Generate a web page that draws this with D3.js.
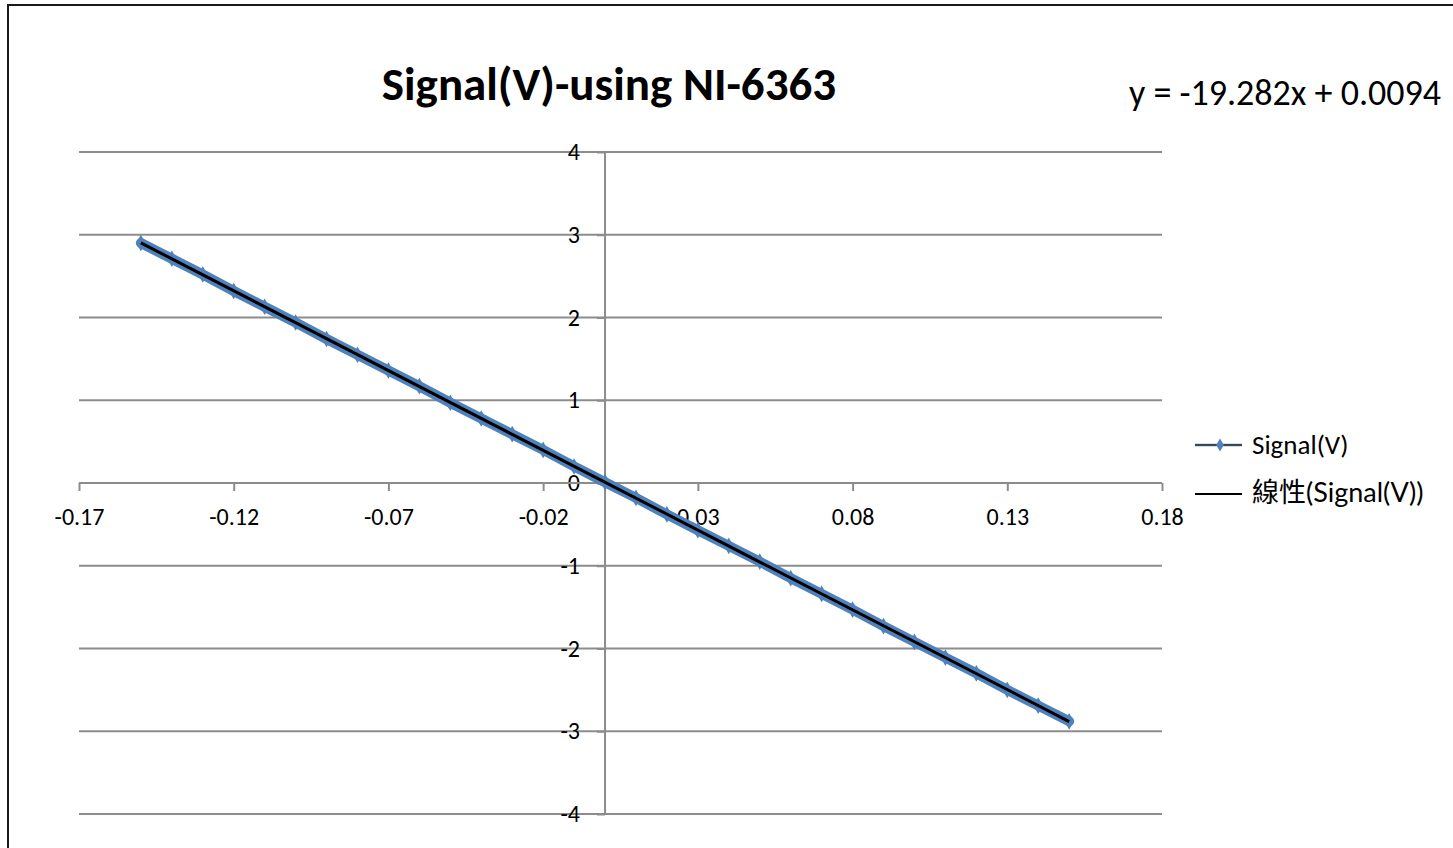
<!DOCTYPE html>
<html>
<head>
<meta charset="utf-8">
<script src="https://cdnjs.cloudflare.com/ajax/libs/d3/7.8.5/d3.min.js"></script>
<style>
  body { margin: 0; background: #fff; }
  text { font-family: Carlito, Calibri, Lato, "Open Sans", sans-serif; }
</style>
</head>
<body>
<svg id="chart"></svg>
<script>

var xValues = [-0.15, -0.14, -0.13, -0.12, -0.11, -0.10, -0.09, -0.08, -0.07, -0.06,
    -0.05, -0.04, -0.03, -0.02, -0.01, 0.00, 0.01, 0.02, 0.03, 0.04,
    0.05, 0.06, 0.07, 0.08, 0.09, 0.10, 0.11, 0.12, 0.13, 0.14, 0.15];
var signalValues = [2.90, 2.71, 2.52, 2.32, 2.13, 1.94, 1.74, 1.55, 1.36, 1.17,
    0.97, 0.78, 0.59, 0.40, 0.20, 0.01, -0.18, -0.38, -0.57, -0.76,
    -0.95, -1.15, -1.34, -1.53, -1.73, -1.92, -2.11, -2.30, -2.50, -2.69, -2.88];
var xTicks = [-0.17, -0.12, -0.07, -0.02, 0.03, 0.08, 0.13, 0.18];
var yTicks = [-4, -3, -2, -1, 0, 1, 2, 3, 4];
var trendCoef = [-19.282, 0.0094];

var width = 1453;
var height = 848;

var svg = d3.select('#chart')
    .attr("width", width)
    .attr("height", height);

// outer chart frame (cut off on right/bottom like the screenshot)
svg.append("rect")
    .attr("x", 8).attr("y", 5)
    .attr("width", 1470).attr("height", 870)
    .attr("fill", "none")
    .attr("stroke", "#1a1a1a")
    .attr("stroke-width", 2);

var xScale = d3.scaleLinear()
    .domain([-0.17, 0.18])
    .range([79, 1162]);

var yScale = d3.scaleLinear()
    .domain([-4, 4])
    .range([814, 152]);

var gray = "#8c8c8c";

// horizontal gridlines
svg.append("g")
    .selectAll("line")
    .data(yTicks)
    .enter()
    .append("line")
    .attr("x1", xScale(-0.17))
    .attr("x2", xScale(0.18))
    .attr("y1", function (d) { return yScale(d); })
    .attr("y2", function (d) { return yScale(d); })
    .attr("stroke", gray)
    .attr("stroke-width", 2);

// y axis sits at x = 0
var y_axis = d3.axisLeft(yScale)
    .tickValues(yTicks)
    .tickSize(8)
    .tickPadding(17)
    .tickFormat(d3.format("d"));

var yG = svg.append("g")
    .attr("transform", "translate(" + xScale(0) + ",0)")
    .call(y_axis);

// x axis sits at y = 0
var x_axis = d3.axisBottom(xScale)
    .tickValues(xTicks)
    .tickSize(8)
    .tickPadding(17)
    .tickFormat(function (d) { return d3.format(".2f")(d).replace("−", "-"); });

var xG = svg.append("g")
    .attr("transform", "translate(0," + yScale(0) + ")")
    .call(x_axis);

[xG, yG].forEach(function (g) {
    g.selectAll("path").attr("stroke", gray).attr("stroke-width", 2);
    g.selectAll("line").attr("stroke", gray).attr("stroke-width", 2);
    g.selectAll("text")
        .attr("fill", "#000")
        .style("font-size", "24px")
        .style("font-family", "Carlito, Calibri, Lato, sans-serif");
});
yG.selectAll("text").text(function (d) { return String(d); });
xG.select(".domain").remove();
xG.append("line")
    .attr("x1", xScale(-0.17)).attr("x2", xScale(0.18))
    .attr("stroke", gray).attr("stroke-width", 2);
yG.select(".domain").remove();
yG.append("line")
    .attr("y1", yScale(-4)).attr("y2", yScale(4))
    .attr("stroke", gray).attr("stroke-width", 2);

var points = xValues.map(function (x, i) { return [x, signalValues[i]]; });

// data series: thick blue band of markers
var line = d3.line()
    .x(function (d) { return xScale(d[0]); })
    .y(function (d) { return yScale(d[1]); });

svg.append("path")
    .datum(points)
    .attr("d", line)
    .attr("fill", "none")
    .attr("stroke", "#4F81BD")
    .attr("stroke-width", 10)
    .attr("stroke-linecap", "round");

svg.append("g")
    .selectAll("path")
    .data(points)
    .enter()
    .append("path")
    .attr("d", d3.symbol().type(d3.symbolDiamond).size(80))
    .attr("transform", function (d) {
        return "translate(" + xScale(d[0]) + "," + yScale(d[1]) + ")";
    })
    .attr("fill", "#4F81BD");

// linear trendline
var xExt = d3.extent(xValues);
svg.append("line")
    .attr("x1", xScale(xExt[0]))
    .attr("y1", yScale(trendCoef[0] * xExt[0] + trendCoef[1]))
    .attr("x2", xScale(xExt[1]))
    .attr("y2", yScale(trendCoef[0] * xExt[1] + trendCoef[1]))
    .attr("stroke", "#000")
    .attr("stroke-width", 3);

// title
svg.append("text")
    .attr("x", 609)
    .attr("y", 100)
    .attr("text-anchor", "middle")
    .style("font-size", "47px")
    .style("font-weight", "bold")
    .text("Signal(V)-using NI-6363");

// trendline equation
svg.append("text")
    .attr("x", 1129)
    .attr("y", 105)
    .style("font-size", "36px")
    .text("y = " + trendCoef[0] + "x + " + trendCoef[1]);

// legend
var legend = svg.append("g");
legend.append("line")
    .attr("x1", 1195).attr("x2", 1242)
    .attr("y1", 445).attr("y2", 445)
    .attr("stroke", "#4F81BD").attr("stroke-width", 2.5);
legend.append("line")
    .attr("x1", 1195).attr("x2", 1242)
    .attr("y1", 445).attr("y2", 445)
    .attr("stroke", "#333").attr("stroke-width", 1.5);
legend.append("path")
    .attr("d", d3.symbol().type(d3.symbolDiamond).size(50))
    .attr("transform", "translate(1220,445)")
    .attr("fill", "#4F81BD");
legend.append("text")
    .attr("x", 1252).attr("y", 454)
    .style("font-size", "27px")
    .text("Signal(V)");
legend.append("line")
    .attr("x1", 1195).attr("x2", 1242)
    .attr("y1", 494).attr("y2", 494)
    .attr("stroke", "#000").attr("stroke-width", 2);
legend.append("text")
    .attr("x", 1252).attr("y", 502)
    .style("font-size", "27px")
    .style("font-family", "Lato, 'Noto Sans CJK TC', sans-serif")
    .text("線性(Signal(V))");

</script>
</body>
</html>
